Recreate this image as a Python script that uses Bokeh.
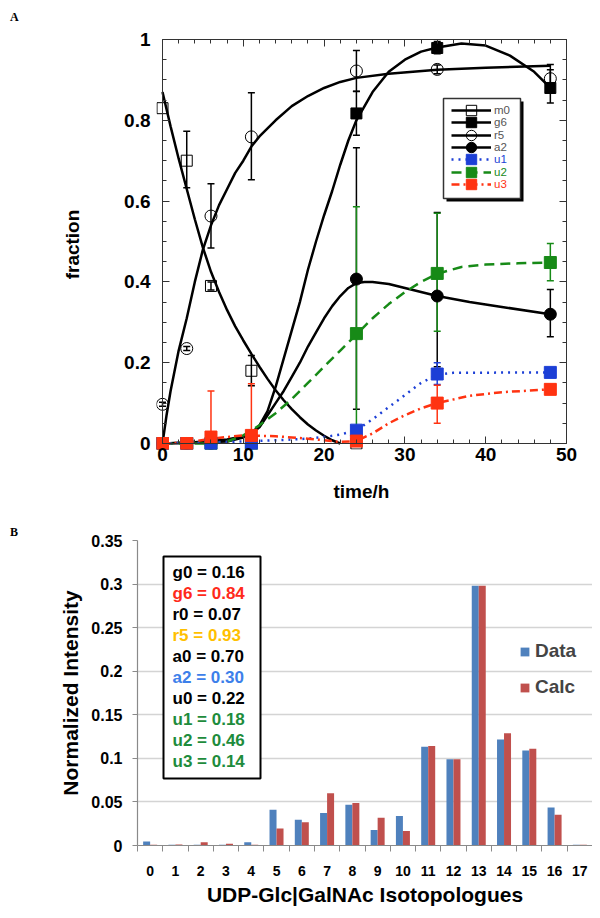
from bokeh.plotting import figure
from bokeh.models import (Range1d, LinearAxis, SingleIntervalTicker, FixedTicker, NumeralTickFormatter,
                          CustomJSTickFormatter, Whisker, TeeHead, ColumnDataSource, Legend, LegendItem,
                          BoxAnnotation, Label, Div)
from bokeh.transform import dodge
from bokeh.embed import file_html
from bokeh.resources import INLINE

FONT = "Liberation Sans"

# ---------------- Panel A data ----------------
m0_t = [0, 3, 6, 11, 24]
m0_y = [0.83, 0.70, 0.39, 0.18, 0.0]
g6_t = [0, 3, 6, 11, 24, 34, 48]
g6_y = [0.0, 0.0, 0.0, 0.005, 0.817, 0.979, 0.880]
r5_t = [0, 3, 6, 11, 24, 34, 48]
r5_y = [0.097, 0.235, 0.563, 0.759, 0.922, 0.926, 0.903]
a2_t = [0, 3, 6, 11, 24, 34, 48]
a2_y = [0.0, 0.0, 0.0, 0.01, 0.407, 0.365, 0.320]
u1_t = [0, 3, 6, 11, 24, 34, 48]
u1_y = [0.0, 0.0, 0.0, 0.0, 0.033, 0.172, 0.176]
u2_t = [0, 3, 6, 11, 24, 34, 48]
u2_y = [0.0, 0.0, 0.0, 0.0, 0.272, 0.421, 0.448]
u3_t = [0, 3, 6, 11, 24, 34, 48]
u3_y = [0.0, 0.0, 0.016, 0.02, 0.006, 0.100, 0.134]

m0_err_t = [3, 6, 11]
m0_err_lo = [0.633, 0.380, 0.143]
m0_err_hi = [0.773, 0.400, 0.218]
r5_err_t = [0, 3, 6, 11, 24, 34, 48]
r5_err_lo = [0.092, 0.230, 0.484, 0.653, 0.872, 0.915, 0.885]
r5_err_hi = [0.102, 0.240, 0.643, 0.868, 0.973, 0.937, 0.925]
g6_err_t = [24, 34, 48]
g6_err_lo = [0.763, 0.965, 0.843]
g6_err_hi = [0.871, 0.995, 0.938]
a2_err_t = [24, 34, 48]
a2_err_lo = [0.085, 0.190, 0.264]
a2_err_hi = [0.732, 0.572, 0.381]
u2_err_t = [24, 34, 48]
u2_err_lo = [0.0, 0.278, 0.403]
u2_err_hi = [0.586, 0.570, 0.495]
u1_err_t = [34]
u1_err_lo = [0.146]
u1_err_hi = [0.200]
u3_err_t = [6, 11, 34]
u3_err_lo = [0.0, 0.0, 0.050]
u3_err_hi = [0.130, 0.148, 0.144]

# model curves
m0_fit_t = [0, 1, 2, 3, 4, 5, 6, 7, 8, 9, 10, 11, 12, 13, 14, 15, 16, 17, 18, 19, 20, 21, 22]
m0_fit = [0.87, 0.785, 0.705, 0.63, 0.555, 0.485, 0.425, 0.375, 0.33, 0.29, 0.255, 0.222, 0.19,
          0.16, 0.132, 0.107, 0.085, 0.065, 0.047, 0.032, 0.019, 0.008, 0.0]
r5_fit_t = [0, 0.5, 1, 2, 3, 4, 5, 6, 7, 8, 9, 10, 11, 12, 14, 16, 18, 20, 22, 24, 28, 34, 40, 48]
r5_fit = [0.0, 0.07, 0.13, 0.23, 0.31, 0.40, 0.48, 0.54, 0.59, 0.63, 0.67, 0.70, 0.735, 0.76,
          0.80, 0.835, 0.86, 0.88, 0.895, 0.905, 0.915, 0.925, 0.93, 0.935]
g6_fit_t = [0, 4, 8, 10, 11, 12, 13, 14, 15, 16, 17, 18, 19, 20, 21, 22, 23, 24, 26, 28, 30, 32,
            34, 37, 40, 43, 46, 48]
g6_fit = [0.0, 0.003, 0.01, 0.018, 0.025, 0.045, 0.08, 0.14, 0.21, 0.28, 0.35, 0.43, 0.50, 0.565,
          0.625, 0.69, 0.75, 0.80, 0.87, 0.92, 0.95, 0.97, 0.98, 0.99, 0.985, 0.96, 0.92, 0.88]
a2_fit_t = [0, 8, 10, 11, 12, 13, 14, 15, 16, 17, 18, 19, 20, 21, 22, 23, 24, 25, 26, 28, 30, 32,
            34, 38, 42, 48]
a2_fit = [0.0, 0.005, 0.015, 0.025, 0.04, 0.07, 0.10, 0.13, 0.165, 0.20, 0.24, 0.275, 0.31, 0.34,
          0.365, 0.385, 0.397, 0.40, 0.40, 0.395, 0.385, 0.375, 0.365, 0.35, 0.338, 0.32]
u2_fit_t = [0, 6, 8, 10, 12, 14, 16, 18, 20, 22, 24, 26, 28, 30, 32, 34, 37, 40, 44, 48]
u2_fit = [0.0, 0.0, 0.005, 0.02, 0.045, 0.075, 0.11, 0.15, 0.19, 0.23, 0.27, 0.31, 0.345, 0.375,
          0.40, 0.42, 0.437, 0.443, 0.446, 0.448]
u1_fit_t = [0, 10, 14, 18, 20, 22, 24, 26, 28, 30, 32, 34, 36, 48]
u1_fit = [0.0, 0.005, 0.008, 0.012, 0.016, 0.022, 0.033, 0.06, 0.09, 0.12, 0.15, 0.17, 0.175, 0.176]
u3_fit_t = [0, 3, 6, 10, 14, 18, 22, 24, 26, 28, 30, 32, 34, 38, 42, 48]
u3_fit = [0.0, 0.002, 0.012, 0.02, 0.018, 0.012, 0.004, 0.006, 0.025, 0.05, 0.07, 0.087, 0.10,
          0.118, 0.127, 0.134]

# ---------------- Panel B data ----------------
isotopologues = ["0", "1", "2", "3", "4", "5", "6", "7", "8", "9", "10", "11", "12", "13", "14",
                 "15", "16", "17"]
data_vals = [0.0046, 0.0008, 0.001, 0.001, 0.0038, 0.041, 0.0295, 0.0372, 0.0468, 0.0177, 0.0338,
             0.1134, 0.0989, 0.298, 0.1215, 0.1089, 0.0437, 0.001]
calc_vals = [0.001, 0.0012, 0.0038, 0.002, 0.001, 0.0196, 0.0268, 0.060, 0.0487, 0.0318, 0.0165,
             0.1142, 0.0989, 0.298, 0.1288, 0.1111, 0.0353, 0.001]
intensity_ticks = [0, 0.05, 0.1, 0.15, 0.2, 0.25, 0.3, 0.35]
param_names = ["g0", "g6", "r0", "r5", "a0", "a2", "u0", "u1", "u2", "u3"]
param_values = [0.16, 0.84, 0.07, 0.93, 0.70, 0.30, 0.22, 0.18, 0.46, 0.14]
param_colors = ["black", "#ff2a1a", "black", "#ffc000", "black", "#3d80ea", "black",
                "#1e8c3c", "#1e8c3c", "#1e8c3c"]

BLUE = "#1c3fd6"
GREEN = "#178a17"
RED = "#ff3311"

# ================= Panel A =================
PX_PER_H = 8.08          # layout: pixels per hour
PX_PER_FRAC = 404.0      # layout: pixels per unit fraction
PAD = 6                  # pixels of frame beyond the axes so markers at 0 are not cut
X_END, Y_END = 50, 1
x_start = -PAD / PX_PER_H
y_start = -PAD / PX_PER_FRAC

p1 = figure(width=592, height=510, x_range=Range1d(x_start, X_END), y_range=Range1d(y_start, Y_END),
            output_backend="svg", toolbar_location=None,
            min_border_left=156, min_border_right=26, min_border_top=39, min_border_bottom=61)
p1.xgrid.grid_line_color = None
p1.ygrid.grid_line_color = None
p1.outline_line_color = None

xtick_a = SingleIntervalTicker(interval=10, num_minor_ticks=5)
ytick_a = SingleIntervalTicker(interval=0.2, num_minor_ticks=4)
empty_fmt = CustomJSTickFormatter(code="return ''")

# label axes at the frame edge (text only)
bot_lab = p1.below[0]
left_lab = p1.left[0]
bot_lab.ticker = xtick_a
left_lab.ticker = ytick_a
left_lab.formatter = NumeralTickFormatter(format="0.[0]")
for ax in [bot_lab, left_lab]:
    ax.axis_line_color = None
    ax.major_tick_line_color = None
    ax.minor_tick_line_color = None
    ax.major_tick_out = 0
    ax.minor_tick_out = 0
    ax.major_tick_in = 0
    ax.minor_tick_in = 0
    ax.major_label_text_font = FONT
    ax.major_label_text_font_style = "bold"
    ax.major_label_text_font_size = "19px"
    ax.major_label_text_color = "black"
    ax.axis_label_text_font = FONT
    ax.axis_label_text_font_style = "bold"
    ax.axis_label_text_font_size = "19px"
    ax.axis_label_text_color = "black"
bot_lab.axis_label = "time/h"
bot_lab.major_label_standoff = -2
bot_lab.axis_label_standoff = 17
left_lab.axis_label = "fraction"
left_lab.major_label_standoff = 6
left_lab.axis_label_standoff = 38

# line/tick axes: box around the data region
bot_line = LinearAxis(ticker=xtick_a, formatter=empty_fmt, fixed_location=0, bounds=(0, X_END))
left_line = LinearAxis(ticker=ytick_a, formatter=empty_fmt, fixed_location=0, bounds=(0, Y_END))
top_line = LinearAxis(ticker=xtick_a, formatter=empty_fmt, bounds=(0, X_END))
right_line = LinearAxis(ticker=ytick_a, formatter=empty_fmt, bounds=(0, Y_END))
p1.add_layout(bot_line, "below")
p1.add_layout(left_line, "left")
p1.add_layout(top_line, "above")
p1.add_layout(right_line, "right")
for ax in [bot_line, left_line, top_line, right_line]:
    ax.major_tick_in = 7
    ax.major_tick_out = 0
    ax.minor_tick_in = 4
    ax.minor_tick_out = 0
    ax.axis_line_color = "#333"
    ax.major_tick_line_color = "#333"
    ax.minor_tick_line_color = "#333"
    ax.major_label_standoff = 0
    ax.major_label_text_font_size = "1px"

# curves
l_m0 = p1.line(m0_fit_t, m0_fit, line_color="black", line_width=2.5)
l_r5 = p1.line(r5_fit_t, r5_fit, line_color="black", line_width=2.5)
l_g6 = p1.line(g6_fit_t, g6_fit, line_color="black", line_width=2.5)
l_a2 = p1.line(a2_fit_t, a2_fit, line_color="black", line_width=2.5)
l_u2 = p1.line(u2_fit_t, u2_fit, line_color=GREEN, line_width=2.5, line_dash="10 6")
l_u1 = p1.line(u1_fit_t, u1_fit, line_color=BLUE, line_width=2.5, line_dash="2 5")
l_u3 = p1.line(u3_fit_t, u3_fit, line_color=RED, line_width=2.5, line_dash="8 4 2 4")


def add_err(t, lo, hi, color):
    src = ColumnDataSource(dict(t=t, lo=lo, hi=hi))
    w = Whisker(base="t", lower="lo", upper="hi", source=src, line_color=color, line_width=1.5,
                upper_head=TeeHead(size=7, line_color=color, line_width=1.5),
                lower_head=TeeHead(size=7, line_color=color, line_width=1.5))
    p1.add_layout(w)


add_err(m0_err_t, m0_err_lo, m0_err_hi, "black")
add_err(r5_err_t, r5_err_lo, r5_err_hi, "black")
add_err(g6_err_t, g6_err_lo, g6_err_hi, "black")
add_err(a2_err_t, a2_err_lo, a2_err_hi, "black")
add_err(u2_err_t, u2_err_lo, u2_err_hi, GREEN)
add_err(u1_err_t, u1_err_lo, u1_err_hi, BLUE)
add_err(u3_err_t, u3_err_lo, u3_err_hi, RED)

s_m0 = p1.scatter(m0_t, m0_y, marker="square", size=11, fill_color=None, line_color="black", line_width=1)
s_r5 = p1.scatter(r5_t, r5_y, marker="circle", size=12, fill_color=None, line_color="black", line_width=1)
s_g6 = p1.scatter(g6_t, g6_y, marker="square", size=11, fill_color="black", line_color="black")
s_a2 = p1.scatter(a2_t, a2_y, marker="circle", size=12, fill_color="black", line_color="black")
s_u2 = p1.scatter(u2_t, u2_y, marker="square", size=12, fill_color=GREEN, line_color=GREEN)
s_u1 = p1.scatter(u1_t, u1_y, marker="square", size=12, fill_color=BLUE, line_color=BLUE)
s_u3 = p1.scatter(u3_t, u3_y, marker="square", size=12, fill_color=RED, line_color=RED)

# legend box with shadow (screen units, from frame bottom-left)
BOX_L, BOX_R, BOX_B, BOX_T = 287, 364, 251, 351
SH = 3
p1.add_layout(BoxAnnotation(left=BOX_L + SH, right=BOX_R + SH, bottom=BOX_B - SH, top=BOX_T - SH,
                            left_units="screen", right_units="screen", bottom_units="screen",
                            top_units="screen", fill_color="black", fill_alpha=1, line_color=None))
p1.add_layout(BoxAnnotation(left=BOX_L, right=BOX_R, bottom=BOX_B, top=BOX_T,
                            left_units="screen", right_units="screen", bottom_units="screen",
                            top_units="screen", fill_color="white", fill_alpha=1,
                            line_color="#333", line_alpha=1, line_width=1.5))

LEG_X = 295
ROW0 = 339
ROW_DY = 12.3
GH = 26
legend_rows = [("m0", [l_m0, s_m0], "#555555"), ("g6", [l_g6, s_g6], "#555555"),
               ("r5", [l_r5, s_r5], "#555555"), ("a2", [l_a2, s_a2], "#555555"),
               ("u1", [l_u1, s_u1], BLUE), ("u2", [l_u2, s_u2], GREEN), ("u3", [l_u3, s_u3], RED)]
for i, (lab, rends, col) in enumerate(legend_rows):
    cy = ROW0 - i * ROW_DY
    leg = Legend(items=[LegendItem(label=lab, renderers=rends)], location=(LEG_X, cy - GH / 2),
                 glyph_width=40, glyph_height=GH, label_height=GH, spacing=0, padding=0, margin=0,
                 border_line_color=None, background_fill_alpha=0, label_text_font=FONT,
                 label_text_font_size="11.5px", label_text_color=col, label_standoff=3)
    p1.add_layout(leg)

# ================= Panel B =================
xs = list(range(len(isotopologues)))
p2 = figure(width=592, height=400, x_range=Range1d(-0.5, len(isotopologues) - 0.5),
            y_range=Range1d(intensity_ticks[0], intensity_ticks[-1]), output_backend="svg",
            toolbar_location=None,
            min_border_left=137, min_border_right=0, min_border_top=30, min_border_bottom=65)
p2.outline_line_color = None
p2.xgrid.grid_line_color = None
p2.ygrid.grid_line_color = "#d4d4d4"
p2.ygrid.grid_line_width = 1.5
yax2 = p2.left[0]
xax2 = p2.below[0]
yax2.ticker = FixedTicker(ticks=intensity_ticks)
p2.ygrid.ticker = yax2.ticker
yax2.formatter = NumeralTickFormatter(format="0.[00]")
xax2.ticker = FixedTicker(ticks=xs, minor_ticks=[x - 0.5 for x in xs] + [xs[-1] + 0.5])
xax2.major_label_overrides = {x: lab for x, lab in zip(xs, isotopologues)}
for ax in [xax2, yax2]:
    ax.axis_line_color = "#8a8a8a"
    ax.axis_line_width = 1.2
    ax.major_tick_line_color = "#8a8a8a"
    ax.minor_tick_line_color = "#8a8a8a"
    ax.major_label_text_font = FONT
    ax.major_label_text_font_style = "bold"
    ax.major_label_text_color = "black"
    ax.axis_label_text_font = FONT
    ax.axis_label_text_font_style = "bold"
    ax.axis_label_text_font_size = "21px"
    ax.axis_label_text_color = "black"
yax2.major_tick_out = 5
yax2.major_tick_in = 0
yax2.major_label_text_font_size = "16px"
yax2.major_label_standoff = 10
yax2.axis_label = "Normalized Intensity"
yax2.axis_label_standoff = 6
xax2.major_tick_out = 0
xax2.major_tick_in = 0
xax2.minor_tick_out = 6
xax2.minor_tick_in = 0
xax2.major_label_text_font_size = "14px"
xax2.major_label_standoff = 14
xax2.axis_label = "UDP-Glc|GalNAc Isotopologues"
xax2.axis_label_standoff = 4

src_b = ColumnDataSource(dict(x=xs, data=data_vals, calc=calc_vals))
BW = 0.277
r_data = p2.vbar(x=dodge("x", -BW / 2), top="data", width=BW, source=src_b,
                 fill_color="#4F81BD", line_color=None)
r_calc = p2.vbar(x=dodge("x", BW / 2), top="calc", width=BW, source=src_b,
                 fill_color="#C0504D", line_color=None)

leg2 = Legend(items=[LegendItem(label="Data", renderers=[r_data]),
                     LegendItem(label="Calc", renderers=[r_calc])],
              location=(382, 147), glyph_width=11, glyph_height=11, label_height=20, spacing=14,
              padding=0, margin=0, border_line_color=None, background_fill_alpha=0,
              label_text_font=FONT, label_text_font_style="bold", label_text_font_size="19px",
              label_standoff=5)
p2.add_layout(leg2)

p2.add_layout(BoxAnnotation(left=26, right=123, bottom=67, top=289, left_units="screen",
                            right_units="screen", bottom_units="screen", top_units="screen",
                            fill_color="white", fill_alpha=1, line_color="black", line_alpha=1,
                            line_width=2))
TXT_Y0 = 273.5
TXT_DY = 21.1
for i, (nm, v, c) in enumerate(zip(param_names, param_values, param_colors)):
    p2.add_layout(Label(x=35, y=TXT_Y0 - i * TXT_DY, x_units="screen", y_units="screen",
                        text=f"{nm} = {v:.2f}", text_color=c, text_font=FONT,
                        text_font_style="bold", text_font_size="17px", text_baseline="middle"))

lab_style = {"position": "absolute", "left": "10px", "font-family": "Liberation Serif",
             "font-weight": "bold", "font-size": "12px", "color": "black", "margin": "0"}
div_a = Div(text="A", styles=dict(lab_style, top="9px"))
div_b = Div(text="B", styles=dict(lab_style, top="524px"))

open("out.html", "w").write(file_html([p1, p2, div_a, div_b], INLINE))
